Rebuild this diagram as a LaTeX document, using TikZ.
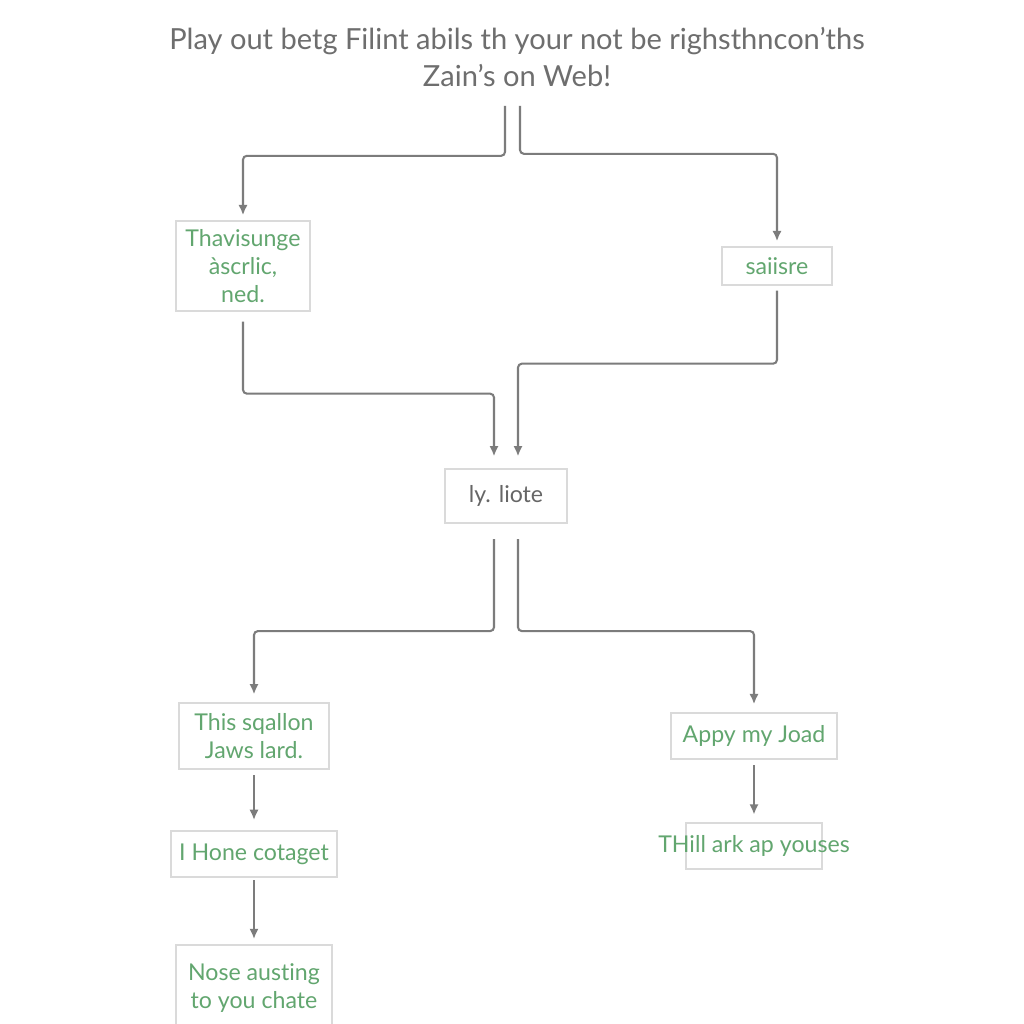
\documentclass[tikz,border=0pt]{standalone}
\usepackage{fontspec}
\setmainfont[Ligatures={NoCommon}]{Lato}
\usetikzlibrary{arrows.meta,calc}
\definecolor{TitleGray}{HTML}{6E6E6E}
\definecolor{WireGray}{HTML}{7C7C7C}
\definecolor{BoxGray}{HTML}{DADADA}
\definecolor{LabelGreen}{HTML}{62A66F}
\definecolor{MidGray}{HTML}{666666}

\begin{document}
\begin{tikzpicture}[x=0.01367cm, y=-0.01367cm, >=Latex,
    box/.style={draw=BoxGray, line width=0.8pt, fill=white, align=center,
      text=LabelGreen, font=\fontsize{9}{10.9}\selectfont, inner sep=0pt},
    wire/.style={->, WireGray, line width=0.8pt, rounded corners=1.5pt,
      -{Latex[length=4pt,width=3.6pt]}}]
  \useasboundingbox[fill=white] (0,0) rectangle (1024,1024);

  \node[text=TitleGray, align=center, font=\fontsize{11.3}{14.4}\selectfont] (title) at (517,57)
    {Play out betg Filint abils th your not be righsthncon'ths\\Zain's on Web!};

  % upper row
  \node[box, minimum width=1.83cm, minimum height=1.22cm] (thav) at (243,266)
    {Thavisunge\\àscrlic,\\ned.};
  \node[box, minimum width=1.5cm, minimum height=0.51cm] (sais) at (777,266) {saiisre};
  \node[box, text=MidGray, minimum width=1.67cm, minimum height=0.74cm] (liote) at (506,496) {ly. liote};

  % lower rows
  \node[box, minimum width=2.05cm, minimum height=0.9cm] (sqal) at (254,736)
    {This sqallon\\Jaws lard.};
  \node[box, minimum width=2.26cm, minimum height=0.63cm] (appy) at (754,736) {Appy my Joad};
  \node[box, minimum width=2.26cm, minimum height=0.62cm] (hone) at (254,854) {I Hone cotaget};
  \node[box, minimum width=2.13cm, minimum height=1.17cm] (nose) at (254,988)
    {Nose austing\\to you chate};
  \node[box, minimum width=1.87cm, minimum height=0.62cm,
    label={[text=LabelGreen, font=\fontsize{9}{10.9}\selectfont]center:THill ark ap youses}]
    (thill) at (754,846) {};

  \draw[wire, shorten >=2pt] ($(title.south)+(-12,10)$) -- ++(0,50) -| (thav.north);
  \draw[wire, shorten >=2pt] ($(title.south)+(3,10)$) -- ++(0,48) -| (sais.north);
  \draw[wire, shorten >=4.5pt] ($(thav.south)+(0,10)$) -- ++(0,72) -| ($(liote.north)+(-12,0)$);
  \draw[wire, shorten >=4.5pt] ($(sais.south)+(0,5)$) -- ++(0,73) -| ($(liote.north)+(12,0)$);
  \draw[wire, shorten >=3pt] ($(liote.south)+(-12,15)$) -- ++(0,92) -| (sqal.north);
  \draw[wire, shorten >=3pt] ($(liote.south)+(12,15)$) -- ++(0,92) -| (appy.north);
  \draw[wire, shorten <=2pt, shorten >=4pt] (sqal) -- (hone);
  \draw[wire, shorten <=1pt, shorten >=2pt] (hone) -- (nose);
  \draw[wire, shorten <=2pt, shorten >=3pt] (appy) -- (thill);
\end{tikzpicture}
\end{document}
